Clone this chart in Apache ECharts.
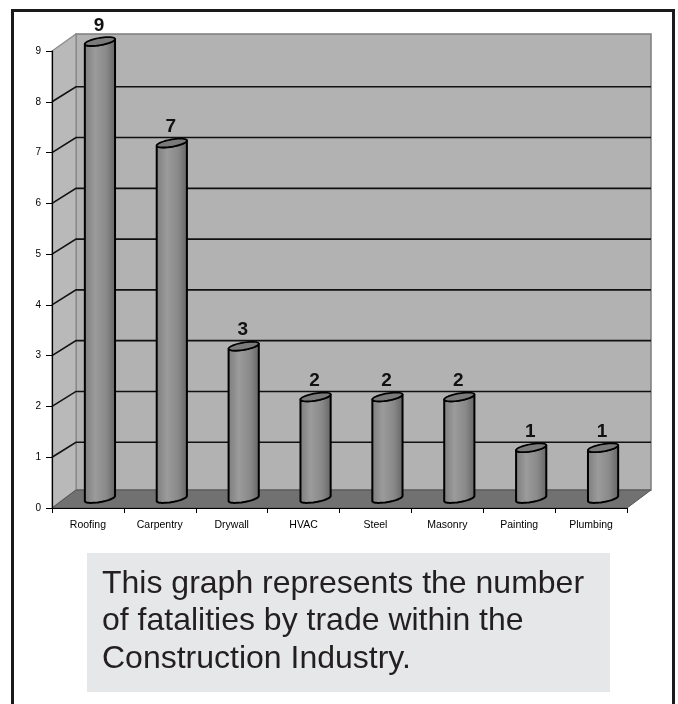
<!DOCTYPE html>
<html>
<head>
<meta charset="utf-8">
<script src="https://cdn.jsdelivr.net/npm/echarts@6/dist/echarts.min.js"></script>
<style>
  html, body { margin: 0; padding: 0; background: #ffffff; }
  #chart { width: 678px; height: 704px; }
</style>
</head>
<body>
<div id="chart"></div>
<script>
// Fatalities by trade, construction industry
const categories = ['Roofing', 'Carpentry', 'Drywall', 'HVAC', 'Steel', 'Masonry', 'Painting', 'Plumbing'];
const fatalities = [9, 7, 3, 2, 2, 2, 1, 1];
const yMin = 0;
const yMax = 9;
const yStep = 1;
const captionLines = [
  'This graph represents the number',
  'of fatalities by trade within the',
  'Construction Industry.'
];

// depth of the pseudo-3D box (back wall offset) and of the bar row
const DEPTH_DX = 24, DEPTH_DY = -15;
const MID_DX = 12, MID_DY = -9.5;
const FONT = '"Liberation Sans", Arial, Helvetica, sans-serif';

const chart = echarts.init(document.getElementById('chart'), null, { renderer: 'canvas' });

// walls, floor and gridlines of the box
function renderFrame(params, api) {
  const cs = params.coordSys;
  const x0 = cs.x, x1 = cs.x + cs.width;
  const yZero = api.coord([0, yMin])[1];
  const yTop = api.coord([0, yMax])[1];
  const bx0 = x0 + DEPTH_DX, bx1 = x1 + DEPTH_DX;
  const wallTop = yTop + DEPTH_DY - 2;
  const floorBack = yZero + DEPTH_DY - 3;
  const children = [];
  // back wall
  children.push({
    type: 'rect',
    shape: { x: bx0, y: wallTop, width: bx1 - bx0, height: floorBack - wallTop },
    style: { fill: '#b2b2b2', stroke: '#7c7c7c', lineWidth: 1.5 }
  });
  // side wall
  children.push({
    type: 'polygon',
    shape: { points: [[x0, yZero], [x0, yTop], [bx0, wallTop], [bx0, floorBack]] },
    style: { fill: '#b9b9b9', stroke: '#8a8a8a', lineWidth: 1.2 }
  });
  // floor
  children.push({
    type: 'polygon',
    shape: { points: [[x0, yZero], [x1, yZero], [bx1, floorBack], [bx0, floorBack]] },
    style: { fill: '#717171', stroke: '#555555', lineWidth: 1 }
  });
  // gridlines across side wall and back wall
  for (let v = yMin + yStep; v < yMax; v += yStep) {
    const y = api.coord([0, v])[1];
    children.push({
      type: 'polyline',
      shape: { points: [[x0, y], [bx0, y + DEPTH_DY], [bx1, y + DEPTH_DY]] },
      style: { stroke: '#111111', lineWidth: 1.6, fill: null }
    });
  }
  return { type: 'group', children: children };
}

// cylinder bars with value labels
function renderBar(params, api) {
  const idx = api.value(0);
  const val = api.value(1);
  const top = api.coord([idx, val]);
  const base = api.coord([idx, 0]);
  const band = api.size([1, 0])[0];
  const hw = band * 0.21;
  const cx = top[0] + MID_DX;
  const yt = top[1] + MID_DY;
  const yb = base[1] + MID_DY;
  const S = 2.5, RY = 3.6;
  const pt = (yc, t) => [cx + hw * Math.cos(t), yc - S * Math.cos(t) + RY * Math.sin(t)];
  const N = 24;
  const body = [];
  body.push(pt(yt, Math.PI));
  for (let k = 0; k <= N; k++) body.push(pt(yb, Math.PI - Math.PI * k / N));
  for (let k = 0; k <= N; k++) body.push(pt(yt, Math.PI * k / N));
  const cap = [];
  for (let k = 0; k < 2 * N; k++) cap.push(pt(yt, 2 * Math.PI * k / (2 * N)));
  return {
    type: 'group',
    children: [
      {
        type: 'polygon',
        shape: { points: body },
        style: {
          fill: new echarts.graphic.LinearGradient(0, 0, 1, 0, [
            { offset: 0, color: '#7c7c7c' },
            { offset: 0.35, color: '#9b9b9b' },
            { offset: 0.7, color: '#898989' },
            { offset: 1, color: '#636363' }
          ]),
          stroke: '#000000',
          lineWidth: 2,
          lineJoin: 'round'
        }
      },
      {
        type: 'polygon',
        shape: { points: cap },
        style: { fill: '#7b7b7b', stroke: '#000000', lineWidth: 1.7, lineJoin: 'round' }
      },
      {
        type: 'text',
        style: {
          text: String(val),
          x: cx - 1,
          y: yt - 16,
          align: 'center',
          verticalAlign: 'middle',
          font: 'bold 19px ' + FONT,
          fill: '#111111'
        }
      }
    ]
  };
}

const captionGraphics = captionLines.map((line, i) => ({
  type: 'text',
  left: 102,
  top: 568 + i * 37.5,
  style: { text: line, font: '32px ' + FONT, fill: '#231f20' }
}));

chart.setOption({
  backgroundColor: '#ffffff',
  animation: false,
  grid: { left: 52, right: 51, top: 51, bottom: 196, containLabel: false, outerBoundsMode: 'none' },
  xAxis: {
    type: 'category',
    data: categories,
    z: 5,
    boundaryGap: true,
    axisLine: { show: true, lineStyle: { color: '#000000', width: 1.2 } },
    axisTick: { show: true, alignWithLabel: false, length: 5, lineStyle: { color: '#000000' } },
    axisLabel: { fontSize: 10.5, fontFamily: FONT, color: '#000000', margin: 12, interval: 0 },
    splitLine: { show: false }
  },
  yAxis: {
    type: 'value',
    min: yMin,
    max: yMax,
    interval: yStep,
    z: 5,
    axisLine: { show: true, lineStyle: { color: '#000000', width: 1.2 } },
    axisTick: { show: true, length: 6, lineStyle: { color: '#000000' } },
    axisLabel: { fontSize: 10, fontFamily: FONT, color: '#000000', margin: 11 },
    splitLine: { show: false }
  },
  series: [
    {
      type: 'custom',
      name: 'frame',
      z: 1,
      silent: true,
      renderItem: renderFrame,
      data: [[0, 0]],
      encode: { x: 0, y: 1 }
    },
    {
      type: 'custom',
      name: 'Fatalities',
      z: 3,
      renderItem: renderBar,
      data: fatalities.map((v, i) => [i, v]),
      encode: { x: 0, y: 1 }
    }
  ],
  graphic: [
    {
      type: 'rect',
      left: 10,
      top: 8,
      z: 10,
      shape: { x: 0, y: 0, width: 661, height: 720 },
      style: { fill: null, stroke: '#1a1a1a', lineWidth: 3 }
    },
    {
      type: 'rect',
      left: 87,
      top: 553,
      z: 10,
      shape: { x: 0, y: 0, width: 523, height: 139 },
      style: { fill: '#e6e7e8' }
    }
  ].concat(captionGraphics.map(g => Object.assign({ z: 11 }, g)))
});
</script>
</body>
</html>
